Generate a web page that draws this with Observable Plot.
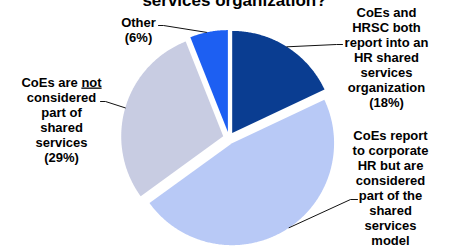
<!DOCTYPE html>
<html><head><meta charset="utf-8">
<script src="https://cdn.jsdelivr.net/npm/d3@7"></script>
<script src="https://cdn.jsdelivr.net/npm/@observablehq/plot@0.6"></script>
<style>body{margin:0;background:#fff}</style>
</head><body><div id="chart"></div>
<script>
// ---- data ----
const categories = ["Both report into HR SSO", "Part of shared services model", "Not part of shared services", "Other"];
const shares = [18, 47, 29, 6];
const sliceColors = ["#0a3d91", "#b8c9f6", "#c8cce2", "#1d5ff2"];
const labelLines = [
  ["CoEs and", "HRSC both", "report into an", "HR shared", "services", "organization"],
  ["CoEs report", "to corporate", "HR but are", "considered", "part of the", "shared", "services", "model"],
  ["CoEs are not", "considered", "part of", "shared", "services"],
  ["Other"]
];
const titleText = "services organization?";

// ---- layout (pixels) ----
const W = 474, H = 251;
const cx = 228.5, cy = 137.5, R = 102, explode = 6;
const fontSize = 13, lineStep = 15;
const labelX = [386, 390, 61, 138];
const labelFirstBaseline = [16, 139, 86, 26];
const leaderFrac = [0.5, 0.48, 0.5, 0.44];
const leaderTail = [[[336, 44], [342, 44]], [[350, 199], [357, 199]], [[105, 101], [100, 101]], [[163, 25], [158, 25]]];

const arcs = d3.pie().sort(null).value(d => d)(shares);
const slicePts = [], leaderPts = [], labels = [];
arcs.forEach((a, i) => {
  const mid = (a.startAngle + a.endAngle) / 2;
  const ox = cx + explode * Math.sin(mid), oy = cy - explode * Math.cos(mid);
  slicePts.push({key: categories[i], x: ox, y: oy});
  const steps = Math.max(8, Math.ceil((a.endAngle - a.startAngle) / 0.01));
  for (let k = 0; k <= steps; k++) {
    const t = a.startAngle + (a.endAngle - a.startAngle) * k / steps;
    slicePts.push({key: categories[i], x: ox + R * Math.sin(t), y: oy - R * Math.cos(t)});
  }
  const la = a.startAngle + (a.endAngle - a.startAngle) * leaderFrac[i];
  leaderPts.push({key: categories[i], x: ox + R * Math.sin(la), y: oy - R * Math.cos(la)});
  leaderTail[i].forEach(([x, y]) => leaderPts.push({key: categories[i], x, y}));
  const lines = [...labelLines[i], `(${shares[i]}%)`];
  labels.push({text: lines.join("\n"), x: labelX[i], y: labelFirstBaseline[i] + (lines.length - 1) * lineStep});
});

const chart = Plot.plot({
  width: W, height: H,
  margin: 0,
  x: {domain: [0, W], range: [0, W], axis: null},
  y: {domain: [0, H], range: [0, H], axis: null},
  color: {domain: categories, range: sliceColors},
  style: {background: "#fff", fontFamily: "'Liberation Sans', Arial, sans-serif"},
  marks: [
    Plot.line(slicePts, {x: "x", y: "y", z: "key", fill: "key", stroke: "none", curve: "linear-closed"}),
    Plot.line(leaderPts, {x: "x", y: "y", z: "key", stroke: "#111", strokeWidth: 1}),
    Plot.text(labels, {x: "x", y: "y", text: "text", lineAnchor: "bottom", lineHeight: lineStep / fontSize,
      fontSize, fontWeight: "bold", fill: "#000", textAnchor: "middle"}),
    Plot.text([titleText], {frameAnchor: "top", dx: -3, dy: 5, lineAnchor: "bottom", fontSize: 17, fontWeight: "bold", fill: "#000"})
  ]
});
document.getElementById("chart").appendChild(chart);

// underline "not"
const ts = [...chart.querySelectorAll("tspan")].find(t => t.textContent === "CoEs are not");
if (ts) {
  ts.textContent = "CoEs are ";
  const u = document.createElementNS("http://www.w3.org/2000/svg", "tspan");
  u.setAttribute("text-decoration", "underline");
  u.textContent = "not";
  ts.appendChild(u);
}
</script>
</body></html>
